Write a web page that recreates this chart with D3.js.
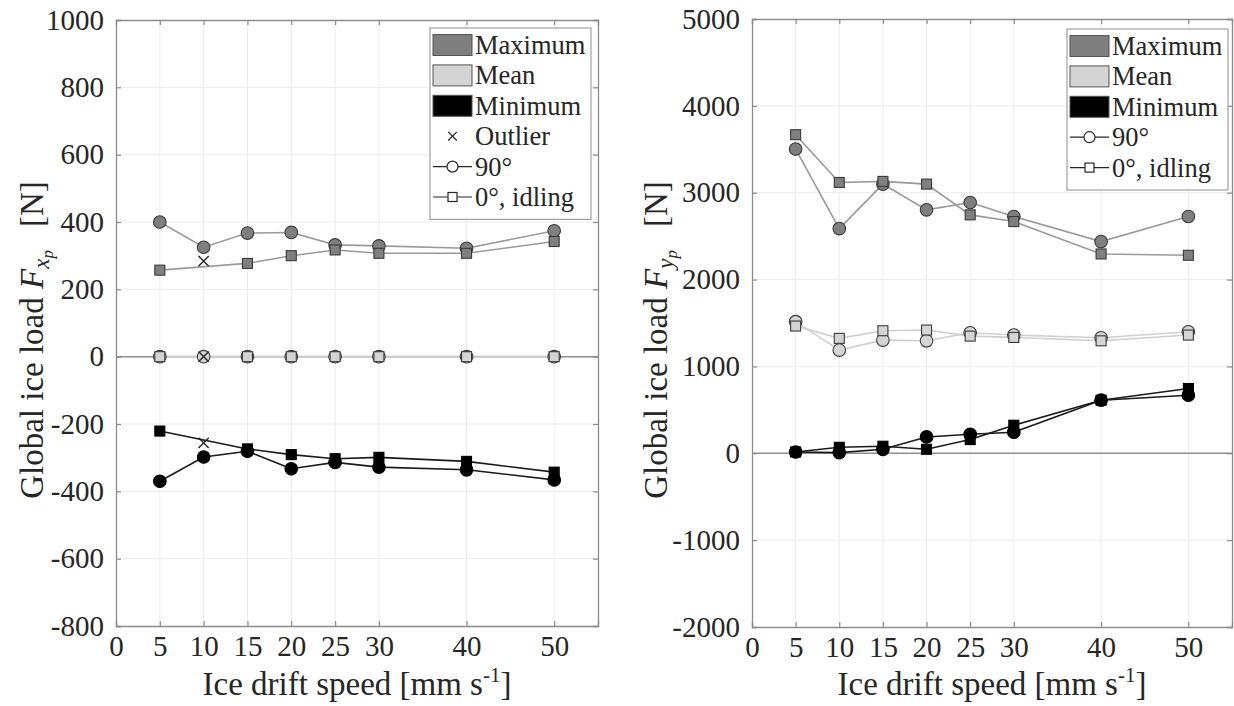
<!DOCTYPE html>
<html><head><meta charset="utf-8">
<script src="https://cdn.jsdelivr.net/npm/d3@7"></script>
<style>
html,body{margin:0;padding:0;background:#fff;}
text{font-family:"Liberation Serif","Times New Roman",serif;fill:#262626;}
</style></head>
<body><svg id="chart" width="1234" height="706"></svg>
<script>
// ---- data ----
const speeds = [5, 10, 15, 20, 25, 30, 40, 50];
const xTicks = [0, 5, 10, 15, 20, 25, 30, 40, 50];

// Left panel: F_xp [N]
const fxMax90  = [400, 325, 367, 369, 332, 329, 322, 374];
const fxMax0   = [257, null, 277, 300, 317, 307, 307, 342];
const fxMean90 = [0, 0, 0, 0, 0, 0, 0, 0];
const fxMean0  = [0, null, 0, 0, 0, 0, 0, 0];
const fxMin90  = [-370, -298, -281, -333, -314, -328, -336, -366];
const fxMin0   = [-221, null, -274, -291, -303, -299, -311, -343];
const fxOutlierSpeed = [10, 10, 10];
const fxOutlierValue = [284, 0, -256];
const fxYTicks = [-800, -600, -400, -200, 0, 200, 400, 600, 800, 1000];

// Right panel: F_yp [N]
const fyMax90  = [3503, 2587, 3099, 2803, 2887, 2726, 2437, 2726];
const fyMax0   = [3668, 3118, 3130, 3099, 2745, 2668, 2295, 2280];
const fyMean90 = [1515, 1188, 1303, 1295, 1388, 1361, 1330, 1399];
const fyMean0  = [1465, 1323, 1411, 1419, 1349, 1334, 1295, 1361];
const fyMin90  = [15, 8, 46, 188, 219, 242, 611, 669];
const fyMin0   = [15, 69, 81, 46, 158, 323, 611, 746];
const fyYTicks = [-2000, -1000, 0, 1000, 2000, 3000, 4000, 5000];

const legendItemsLeft  = ["Maximum", "Mean", "Minimum", "Outlier", "90°", "0°, idling"];
const legendItemsRight = ["Maximum", "Mean", "Minimum", "90°", "0°, idling"];

// ---- styles ----
const C = {
  max:  {fill: "#7f7f7f", line: "#9a9a9a", stroke: "#3a3a3a"},
  mean: {fill: "#d4d4d4", line: "#cfcfcf", stroke: "#3a3a3a"},
  min:  {fill: "#000000", line: "#1a1a1a", stroke: "#000000"}
};
const fmt = d => String(d);  // plain hyphen-minus like the reference
const svg = d3.select("#chart");

function panel(cfg) {
  const x = d3.scaleLinear().domain([0, 55]).range([cfg.left, cfg.right]);
  const y = d3.scaleLinear().domain(cfg.yDomain).range([cfg.bottom, cfg.top]);
  const g = svg.append("g");

  // grid
  g.append("g").selectAll("line").data(xTicks.filter(d => d > 0)).join("line")
    .attr("x1", d => x(d)).attr("x2", d => x(d)).attr("y1", cfg.top).attr("y2", cfg.bottom)
    .attr("stroke", "#ebebeb").attr("stroke-width", 1);
  g.append("g").selectAll("line").data(cfg.yTicks.filter(d => d !== cfg.yDomain[0] && d !== cfg.yDomain[1])).join("line")
    .attr("x1", cfg.left).attr("x2", cfg.right).attr("y1", d => y(d)).attr("y2", d => y(d))
    .attr("stroke", "#ebebeb").attr("stroke-width", 1);

  // zero line
  g.append("line").attr("x1", cfg.left).attr("x2", cfg.right).attr("y1", y(0)).attr("y2", y(0))
    .attr("stroke", "#8f8f8f").attr("stroke-width", 1.5);

  // axes (ticks inward, box)
  const axB = d3.axisBottom(x).tickValues(xTicks).tickSize(-5).tickPadding(9).tickFormat(fmt);
  const axT = d3.axisTop(x).tickValues(xTicks).tickSize(-5).tickFormat("");
  const axL = d3.axisLeft(y).tickValues(cfg.yTicks).tickSize(-5).tickPadding(12).tickFormat(fmt);
  const axR = d3.axisRight(y).tickValues(cfg.yTicks).tickSize(-5).tickFormat("");
  const gb = g.append("g").attr("transform", `translate(0,${cfg.bottom})`).call(axB);
  const gt = g.append("g").attr("transform", `translate(0,${cfg.top})`).call(axT);
  const gl = g.append("g").attr("transform", `translate(${cfg.left},0)`).call(axL);
  const gr = g.append("g").attr("transform", `translate(${cfg.right},0)`).call(axR);
  [gb, gt, gl, gr].forEach(a => {
    a.select(".domain").attr("stroke", "#8c8c8c").attr("stroke-width", 1.3);
    a.selectAll(".tick line").attr("stroke", "#8c8c8c").attr("stroke-width", 1.2);
    a.selectAll(".tick text").attr("font-size", 29).attr("fill", "#262626")
      .attr("font-family", '"Liberation Serif", serif');
  });

  // series
  const series = [
    {v: cfg.max90, c: C.max, shape: "circle"},
    {v: cfg.max0, c: C.max, shape: "square"},
    {v: cfg.mean90, c: C.mean, shape: "circle"},
    {v: cfg.mean0, c: C.mean, shape: "square"},
    {v: cfg.min90, c: C.min, shape: "circle"},
    {v: cfg.min0, c: C.min, shape: "square"}
  ];
  const line = d3.line().x(d => x(d[0])).y(d => y(d[1]));
  series.forEach(s => {
    const pts = speeds.map((sp, i) => [sp, s.v[i]]).filter(d => d[1] !== null);
    s.pts = pts;
    g.append("path").datum(pts).attr("d", line).attr("fill", "none")
      .attr("stroke", s.c.line).attr("stroke-width", 1.6);
  });
  series.forEach(s => {
    if (s.shape === "circle") {
      g.append("g").selectAll("circle").data(s.pts).join("circle")
        .attr("cx", d => x(d[0])).attr("cy", d => y(d[1])).attr("r", 6.3)
        .attr("fill", s.c.fill).attr("stroke", s.c.stroke).attr("stroke-width", 1.1);
    } else {
      g.append("g").selectAll("rect").data(s.pts).join("rect")
        .attr("x", d => x(d[0]) - 5).attr("y", d => y(d[1]) - 5).attr("width", 10).attr("height", 10)
        .attr("fill", s.c.fill).attr("stroke", s.c.stroke).attr("stroke-width", 1.1);
    }
  });
  // outliers
  if (cfg.outS) {
    const cross = d3.symbol().type(d3.symbolX).size(70);
    g.append("g").selectAll("path").data(cfg.outS.map((s, i) => [s, cfg.outV[i]])).join("path")
      .attr("d", cross).attr("transform", d => `translate(${x(d[0])},${y(d[1])})`)
      .attr("fill", "none").attr("stroke", "#262626").attr("stroke-width", 1.4);
  }

  // x label
  const xl = g.append("text").attr("x", (cfg.left + cfg.right) / 2).attr("y", 695)
    .attr("text-anchor", "middle").attr("font-size", 33);
  xl.append("tspan").text("Ice drift speed [mm s");
  xl.append("tspan").attr("font-size", 21).attr("dy", -13).text("-1");
  xl.append("tspan").attr("dy", 13).text("]");

  // y label
  const yl = g.append("text").attr("transform", `translate(${cfg.ylabX},340) rotate(-90)`)
    .attr("text-anchor", "middle").attr("font-size", 33);
  yl.append("tspan").text("Global ice load ");
  yl.append("tspan").attr("font-style", "italic").text("F");
  yl.append("tspan").attr("font-style", "italic").attr("font-size", 23).attr("dy", 6).text(cfg.sub);
  yl.append("tspan").attr("font-style", "italic").attr("font-size", 17).attr("dy", 4).text("p");
  yl.append("tspan").attr("dy", -10).text("\u2002\u2009[N]");

  // legend
  const lx = cfg.legX, ly = cfg.legY, rowH = 30.4;
  const items = cfg.legend;
  const lg = g.append("g");
  lg.append("rect").attr("x", lx).attr("y", ly).attr("width", 161).attr("height", items.length * rowH + 9)
    .attr("fill", "#fff").attr("stroke", "#a0a0a0").attr("stroke-width", 1.2);
  items.forEach((name, i) => {
    const cy = ly + 17 + i * rowH;
    const px = lx + 3, pw = 39;
    if (name === "Maximum" || name === "Mean" || name === "Minimum") {
      const c = name === "Maximum" ? C.max : name === "Mean" ? C.mean : C.min;
      lg.append("rect").attr("x", px).attr("y", cy - 10.5).attr("width", pw).attr("height", 21)
        .attr("fill", c.fill).attr("stroke", "#555").attr("stroke-width", 1);
    } else if (name === "Outlier") {
      lg.append("path").attr("d", d3.symbol().type(d3.symbolX).size(50))
        .attr("transform", `translate(${px + pw / 2},${cy})`)
        .attr("fill", "none").attr("stroke", "#262626").attr("stroke-width", 1.3);
    } else {
      lg.append("line").attr("x1", px).attr("x2", px + pw).attr("y1", cy).attr("y2", cy)
        .attr("stroke", "#262626").attr("stroke-width", 1.2);
      if (name === "90°") {
        lg.append("circle").attr("cx", px + pw / 2).attr("cy", cy).attr("r", 5.5)
          .attr("fill", "#fff").attr("stroke", "#262626").attr("stroke-width", 1.2);
      } else {
        lg.append("rect").attr("x", px + pw / 2 - 4.5).attr("y", cy - 4.5).attr("width", 9).attr("height", 9)
          .attr("fill", "#fff").attr("stroke", "#262626").attr("stroke-width", 1.2);
      }
    }
    lg.append("text").attr("x", lx + 45).attr("y", cy + 9).attr("font-size", 26.5).text(name);
  });
}

panel({
  left: 116, right: 598, top: 20, bottom: 626, yDomain: [-800, 1000], yTicks: fxYTicks,
  max90: fxMax90, max0: fxMax0, mean90: fxMean90, mean0: fxMean0, min90: fxMin90, min0: fxMin0,
  outS: fxOutlierSpeed, outV: fxOutlierValue, sub: "x", ylabX: 43,
  legend: legendItemsLeft, legX: 430, legY: 28
});
panel({
  left: 752, right: 1232, top: 19, bottom: 627, yDomain: [-2000, 5000], yTicks: fyYTicks,
  max90: fyMax90, max0: fyMax0, mean90: fyMean90, mean0: fyMean0, min90: fyMin90, min0: fyMin0,
  outS: null, sub: "y", ylabX: 667,
  legend: legendItemsRight, legX: 1067, legY: 29
});
</script></body></html>
